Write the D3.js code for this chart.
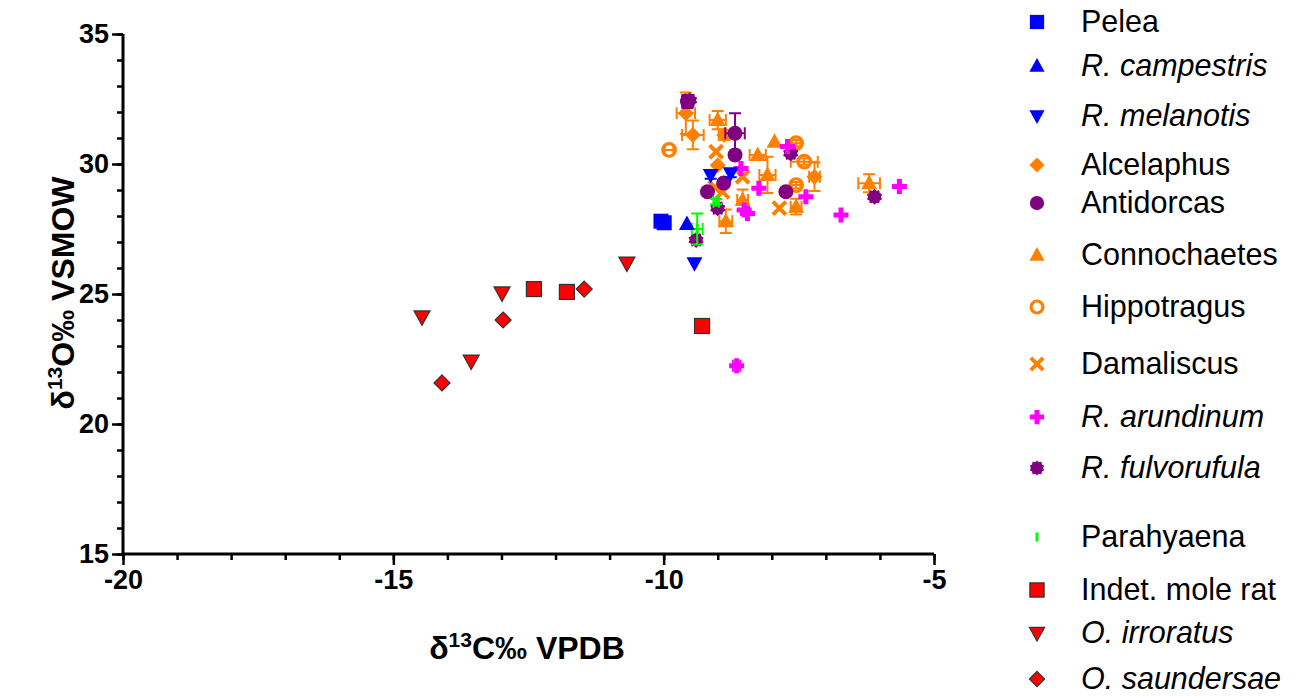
<!DOCTYPE html>
<html>
<head>
<meta charset="utf-8">
<script src="https://cdn.jsdelivr.net/npm/d3@7"></script>
<style>
  html, body { margin: 0; padding: 0; background: #fff; }
  svg { display: block; }
  text { font-family: "Liberation Sans", Arial, sans-serif; }
</style>
</head>
<body>
<svg id="chart" width="1295" height="696"></svg>
<script>
// Axis settings
const xDomain = [-20, -5];
const yDomain = [15, 35];
const xTicks = [-20, -15, -10, -5];
const yTicks = [15, 20, 25, 30, 35];
const xMinor = d3.range(-20, -4, 1);
const yMinor = d3.range(15, 36, 1);

// Each point: [d13C, d18O, xError, yError]
const pelea        = [[-10.05, 27.80, 0, 0], [-9.99, 27.74, 0, 0]];
const campestris   = [[-9.57, 27.69, 0, 0]];
const melanotis    = [[-9.13, 29.58, 0, 0.15], [-8.76, 29.64, 0, 0.15], [-9.43, 26.18, 0, 0]];
const alcelaphus   = [[-9.59, 31.95, 0.17, 0.8], [-9.46, 31.12, 0.2, 0.55], [-8.88, 31.12, 0.1, 0.2],
                      [-7.21, 29.51, 0.1, 0.55], [-9.00, 29.95, 0, 0]];
const antidorcas   = [[-9.56, 32.40, 0.1, 0.25], [-8.68, 31.18, 0.18, 0.77], [-8.68, 30.35, 0, 0],
                      [-9.19, 28.93, 0, 0], [-8.89, 29.27, 0, 0], [-7.74, 28.93, 0, 0]];
const connochaetes = [[-9.00, 31.69, 0.15, 0.35], [-8.26, 30.35, 0.15, 0], [-7.95, 30.86, 0, 0],
                      [-8.08, 29.58, 0.15, 0.7], [-8.54, 28.62, 0.1, 0.4], [-8.85, 27.80, 0.12, 0.45],
                      [-7.55, 28.36, 0.1, 0.3], [-6.20, 29.26, 0.2, 0.35]];
const hippotragus  = [[-9.90, 30.54, 0.08, 0], [-7.55, 30.80, 0.08, 0.12], [-7.40, 30.09, 0.25, 0.12],
                      [-7.55, 29.19, 0.08, 0.12]];
const damaliscus   = [[-9.03, 30.47, 0, 0], [-8.54, 29.51, 0, 0], [-8.91, 28.93, 0, 0],
                      [-9.05, 29.10, 0, 0], [-7.86, 28.30, 0, 0]];
const arundinum    = [[-8.57, 29.83, 0, 0], [-8.24, 29.07, 0, 0], [-8.51, 28.23, 0, 0], [-8.45, 28.10, 0, 0],
                      [-7.71, 30.67, 0, 0], [-7.37, 28.74, 0, 0], [-6.72, 28.04, 0, 0], [-5.64, 29.13, 0, 0],
                      [-8.65, 22.24, 0.07, 0]];
const fulvorufula  = [[-9.52, 32.45, 0, 0], [-9.00, 28.30, 0, 0], [-9.40, 27.08, 0, 0],
                      [-7.65, 30.41, 0, 0], [-6.10, 28.74, 0, 0]];
const parahyaena   = [[-9.38, 27.50, 0.1, 0.6], [-9.03, 28.55, 0.05, 0.1]];
const moleRat      = [[-12.40, 25.19, 0, 0], [-11.79, 25.08, 0, 0], [-9.29, 23.77, 0, 0]];
const irroratus    = [[-14.47, 24.12, 0, 0], [-12.99, 25.04, 0, 0], [-13.56, 22.42, 0, 0], [-10.68, 26.19, 0, 0]];
const saundersae   = [[-14.10, 21.58, 0, 0], [-12.97, 24.00, 0, 0], [-11.47, 25.19, 0, 0]];

const BLUE = "#0000ff", ORANGE = "#ff8000", PURPLE = "#800080",
      MAGENTA = "#ff00ff", GREEN = "#00ff00", RED = "#ff0000";

const series = [
  { name: "Pelea",           italic: false, shape: "square",   color: BLUE,    data: pelea },
  { name: "R. campestris",   italic: true,  shape: "triUp",    color: BLUE,    data: campestris },
  { name: "R. melanotis",    italic: true,  shape: "triDown",  color: BLUE,    data: melanotis },
  { name: "Alcelaphus",      italic: false, shape: "diamond",  color: ORANGE,  data: alcelaphus },
  { name: "Antidorcas",      italic: false, shape: "circle",   color: PURPLE,  data: antidorcas },
  { name: "Connochaetes",    italic: false, shape: "triUp",    color: ORANGE,  data: connochaetes },
  { name: "Hippotragus",     italic: false, shape: "ring",     color: ORANGE,  data: hippotragus },
  { name: "Damaliscus",      italic: false, shape: "x",        color: ORANGE,  data: damaliscus },
  { name: "R. arundinum",    italic: true,  shape: "plus",     color: MAGENTA, data: arundinum },
  { name: "R. fulvorufula",  italic: true,  shape: "burst",    color: PURPLE,  data: fulvorufula },
  { name: "Parahyaena",      italic: false, shape: "dash",     color: GREEN,   data: parahyaena },
  { name: "Indet. mole rat", italic: false, shape: "square",   color: RED,     data: moleRat,   outline: true },
  { name: "O. irroratus",    italic: true,  shape: "triDown",  color: RED,     data: irroratus, outline: true },
  { name: "O. saundersae",   italic: true,  shape: "diamond",  color: RED,     data: saundersae, outline: true }
];
const legendY = [22, 66, 116, 165, 203, 255, 307, 364, 417, 468, 537, 590, 633, 679];

const svg = d3.select("#chart");
const x = d3.scaleLinear().domain(xDomain).range([123, 934]);
const y = d3.scaleLinear().domain(yDomain).range([554, 34]);

// Burst outline used for R. fulvorufula
function burstPath(rOut, rIn, n) {
  const pts = [];
  for (let i = 0; i < n * 2; i++) {
    const r = i % 2 === 0 ? rOut : rIn;
    const a = Math.PI * i / n;
    pts.push([r * Math.sin(a), -r * Math.cos(a)]);
  }
  return "M" + pts.map(p => p[0].toFixed(2) + "," + p[1].toFixed(2)).join("L") + "Z";
}

function drawSymbol(g, s, scale) {
  const k = scale || 1;
  const c = s.color;
  const stroke = s.outline ? "#333" : "none";
  switch (s.shape) {
    case "square":
      g.append("rect").attr("x", -7.5 * k).attr("y", -7.5 * k).attr("width", 15 * k).attr("height", 15 * k)
        .attr("fill", c).attr("stroke", stroke).attr("stroke-width", 1.2);
      break;
    case "triUp":
      g.append("path").attr("d", `M0,${-8.5 * k}L${8 * k},${6 * k}L${-8 * k},${6 * k}Z`)
        .attr("fill", c).attr("stroke", stroke).attr("stroke-width", 1.2);
      break;
    case "triDown":
      g.append("path").attr("d", `M${-8 * k},${-6 * k}L${8 * k},${-6 * k}L0,${8.5 * k}Z`)
        .attr("fill", c).attr("stroke", stroke).attr("stroke-width", 1.2);
      break;
    case "diamond":
      g.append("path").attr("d", `M0,${-8 * k}L${8 * k},0L0,${8 * k}L${-8 * k},0Z`)
        .attr("fill", c).attr("stroke", stroke).attr("stroke-width", 1.2);
      break;
    case "circle":
      g.append("circle").attr("r", 7.5 * k).attr("fill", c);
      break;
    case "ring":
      g.append("circle").attr("r", 6.3 * k).attr("fill", "none").attr("stroke", c).attr("stroke-width", 3.2);
      break;
    case "x":
      g.append("path").attr("d", `M${-6.5 * k},${-6.5 * k}L${6.5 * k},${6.5 * k}M${6.5 * k},${-6.5 * k}L${-6.5 * k},${6.5 * k}`)
        .attr("stroke", c).attr("stroke-width", 4).attr("fill", "none");
      break;
    case "plus":
      g.append("path").attr("d", `M${-7.5 * k},0L${7.5 * k},0M0,${-7.5 * k}L0,${7.5 * k}`)
        .attr("stroke", c).attr("stroke-width", 5).attr("fill", "none");
      break;
    case "burst":
      g.append("path").attr("d", burstPath(8 * k, 6.4 * k, 10)).attr("fill", c);
      break;
    case "dash":
      g.append("rect").attr("x", -1.5).attr("y", -5 * k).attr("width", 3).attr("height", 10 * k).attr("fill", c);
      break;
  }
}

// Error bars with caps
function drawErrors(g, s) {
  s.data.forEach(d => {
    const cx = x(d[0]), cy = y(d[1]);
    if (d[3] > 0) {
      const y0 = y(d[1] - d[3]), y1 = y(d[1] + d[3]);
      g.append("path").attr("d", `M${cx},${y0}L${cx},${y1}M${cx - 6},${y0}L${cx + 6},${y0}M${cx - 6},${y1}L${cx + 6},${y1}`)
        .attr("stroke", s.color).attr("stroke-width", 2).attr("fill", "none");
    }
    if (d[2] > 0) {
      const x0 = x(d[0] - d[2]), x1 = x(d[0] + d[2]);
      g.append("path").attr("d", `M${x0},${cy}L${x1},${cy}M${x0},${cy - 6}L${x0},${cy + 6}M${x1},${cy - 6}L${x1},${cy + 6}`)
        .attr("stroke", s.color).attr("stroke-width", 2).attr("fill", "none");
    }
  });
}

// Axes
const axisG = svg.append("g");
const yMinorAxis = d3.axisLeft(y).tickValues(yMinor).tickSize(6).tickFormat("");
const yMajorAxis = d3.axisLeft(y).tickValues(yTicks).tickSize(11).tickPadding(3).tickFormat(d => String(d));
const xMinorAxis = d3.axisBottom(x).tickValues(xMinor).tickSize(6).tickFormat("");
const xMajorAxis = d3.axisBottom(x).tickValues(xTicks).tickSize(11).tickPadding(5).tickFormat(d => String(d));

function styleAxis(g) {
  g.select(".domain").remove();
  g.selectAll(".tick line").attr("stroke", "#000").attr("stroke-width", 2.5);
  g.selectAll(".tick text").attr("fill", "#000").attr("font-size", 27).attr("font-weight", "bold")
    .attr("font-family", "'Liberation Sans', Arial, sans-serif");
}
const gyMinor = axisG.append("g").attr("transform", "translate(123,0)").call(yMinorAxis); styleAxis(gyMinor);
const gyMajor = axisG.append("g").attr("transform", "translate(123,0)").call(yMajorAxis); styleAxis(gyMajor);
const gxMinor = axisG.append("g").attr("transform", "translate(0,554)").call(xMinorAxis); styleAxis(gxMinor);
const gxMajor = axisG.append("g").attr("transform", "translate(0,554)").call(xMajorAxis); styleAxis(gxMajor);
gxMajor.selectAll(".tick text").attr("dy", "0.72em");

axisG.append("line").attr("x1", 123).attr("x2", 123).attr("y1", 34).attr("y2", 555.5)
  .attr("stroke", "#000").attr("stroke-width", 3);
axisG.append("line").attr("x1", 121.5).attr("x2", 934).attr("y1", 554).attr("y2", 554)
  .attr("stroke", "#000").attr("stroke-width", 3);

// Axis titles
const xt = svg.append("text").attr("x", 527).attr("y", 659).attr("text-anchor", "middle")
  .attr("font-size", 32).attr("font-weight", "bold");
xt.append("tspan").text("δ");
xt.append("tspan").attr("font-size", 21).attr("dy", -12).text("13");
xt.append("tspan").attr("dy", 12).text("C‰ VPDB");

const yt = svg.append("text").attr("transform", "translate(74,293) rotate(-90)").attr("text-anchor", "middle")
  .attr("font-size", 32).attr("font-weight", "bold");
yt.append("tspan").text("δ");
yt.append("tspan").attr("font-size", 21).attr("dy", -12).text("13");
yt.append("tspan").attr("dy", 12).text("O‰ VSMOW");

// Points
const plot = svg.append("g");
const drawOrder = [6, 7, 5, 3, 4, 9, 8, 10, 2, 1, 0, 11, 12, 13];
drawOrder.forEach(i => {
  const s = series[i];
  const g = plot.append("g");
  drawErrors(g, s);
  s.data.forEach(d => {
    const pg = g.append("g").attr("transform", `translate(${x(d[0])},${y(d[1])})`);
    drawSymbol(pg, s);
  });
});

// Legend
const legend = svg.append("g");
series.forEach((s, i) => {
  const row = legend.append("g").attr("transform", `translate(1037,${legendY[i]})`);
  drawSymbol(row, s, s.shape === "dash" ? 0.9 : 0.95);
  row.append("text").attr("x", 44).attr("y", 0).attr("dy", "0.34em")
    .attr("font-size", 30.5).attr("font-style", s.italic ? "italic" : "normal")
    .attr("fill", "#000").text(s.name);
});
</script>
</body>
</html>
